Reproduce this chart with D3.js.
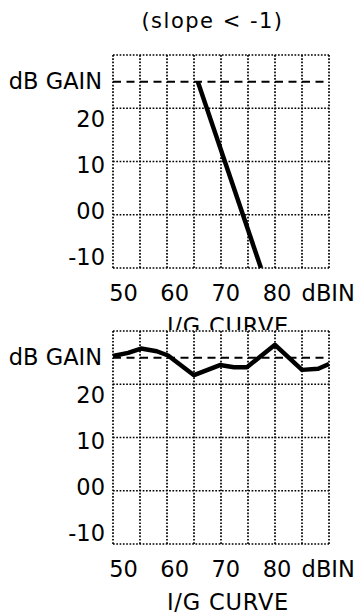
<!DOCTYPE html>
<html>
<head>
<meta charset="utf-8">
<script src="https://cdn.jsdelivr.net/npm/d3@7"></script>
<style>
  html, body { margin: 0; padding: 0; background: #fff; }
  svg { display: block; }
  text { font-family: "DejaVu Sans", sans-serif; fill: #000; }
</style>
</head>
<body>
<script>
// Input/gain curves, two panels
const title = "(slope < -1)";
const xAxisTitle = "I/G CURVE";
const yAxisTitle = "dB GAIN";

const xTickValues = [50, 60, 70, 80, 90];
const xTickLabels = ["50", "60", "70", "80", "dBIN"];
const yTickValues = [20, 10, 0, -10];
const yTickLabels = ["20", "10", "00", "-10"];

const referenceGain = 25;

// Panel 1: steep compression segment
const steepInput = [65.7, 77.4];
const steepGain = [25, -10];

// Panel 2: measured gain across input levels
const measuredInput = [50, 52.8, 55.2, 58.1, 60.2, 65, 69.8, 72.4, 74.8, 80, 85, 88, 90];
const measuredGain = [25.3, 25.9, 26.7, 26.2, 25.4, 21.7, 23.6, 23.2, 23.2, 27.4, 22.7, 22.9, 23.8];

const W = 357, H = 616;
const plotLeft = 113, plotWidth = 216, plotHeight = 213;

const svg = d3.select("body").append("svg")
  .attr("width", W).attr("height", H);

svg.append("text")
  .attr("x", 212.5).attr("y", 27.5)
  .attr("text-anchor", "middle")
  .style("font-size", "21px")
  .style("letter-spacing", "1.5px")
  .text(title);

function drawPanel(top, inputs, gains) {
  const g = svg.append("g");

  // blank panel background (covers anything drawn above its frame)
  g.append("rect")
    .attr("x", 0).attr("y", top - 1)
    .attr("width", W).attr("height", H - top + 1)
    .attr("fill", "#fff");

  const x = d3.scaleLinear().domain([50, 90]).range([plotLeft, plotLeft + plotWidth]);
  const y = d3.scaleLinear().domain([-10, 30]).range([top + plotHeight, top]);

  // label positions used by the tick text
  const xLabel = d3.scaleLinear().domain([50, 90]).range([123.5, 328.2]);
  const yLabel = d3.scaleLinear().domain([20, -10]).range([top + 64, top + 201.5]);

  const dotted = sel => sel
    .attr("stroke", "#000")
    .attr("stroke-width", 1.7)
    .attr("stroke-dasharray", "1.7,1.6")
    .attr("fill", "none");

  // vertical grid
  g.append("g").selectAll("line")
    .data(d3.range(50, 90.1, 5))
    .join("line")
    .attr("x1", d => x(d)).attr("x2", d => x(d))
    .attr("y1", y(30)).attr("y2", y(-10))
    .call(dotted);

  // horizontal grid
  g.append("g").selectAll("line")
    .data([30, 20, 10, 0, -10])
    .join("line")
    .attr("x1", x(50)).attr("x2", x(90))
    .attr("y1", d => y(d)).attr("y2", d => y(d))
    .call(dotted);

  // reference gain line
  g.append("line")
    .attr("x1", x(50)).attr("x2", x(90))
    .attr("y1", y(referenceGain)).attr("y2", y(referenceGain))
    .attr("stroke", "#000")
    .attr("stroke-width", 2)
    .attr("stroke-dasharray", "8,5.5");

  // curve
  const pts = inputs.map((v, i) => [v, gains[i]]);
  g.append("path")
    .datum(pts)
    .attr("d", d3.line().x(d => x(d[0])).y(d => y(d[1])))
    .attr("fill", "none")
    .attr("stroke", "#000")
    .attr("stroke-width", 4.5)
    .attr("stroke-linejoin", "round");

  // y labels
  g.append("text")
    .attr("x", 102).attr("y", top + 25.5 + 8.2)
    .attr("text-anchor", "end")
    .style("font-size", "22.5px")
    .text(yAxisTitle);

  g.append("g").selectAll("text")
    .data(yTickValues)
    .join("text")
    .attr("x", 105)
    .attr("y", d => yLabel(d) + 8.3)
    .attr("text-anchor", "end")
    .style("font-size", "22.5px")
    .text((d, i) => yTickLabels[i]);

  // x labels
  g.append("g").selectAll("text")
    .data(xTickValues)
    .join("text")
    .attr("x", d => xLabel(d))
    .attr("y", top + 245.5)
    .attr("text-anchor", "middle")
    .style("font-size", "22.5px")
    .text((d, i) => xTickLabels[i]);

  g.append("text")
    .attr("x", 228).attr("y", top + 279)
    .attr("text-anchor", "middle")
    .style("font-size", "22.5px")
    .style("letter-spacing", "0.8px")
    .text(xAxisTitle);
}

drawPanel(55, steepInput, steepGain);
drawPanel(331, measuredInput, measuredGain);
</script>
</body>
</html>
